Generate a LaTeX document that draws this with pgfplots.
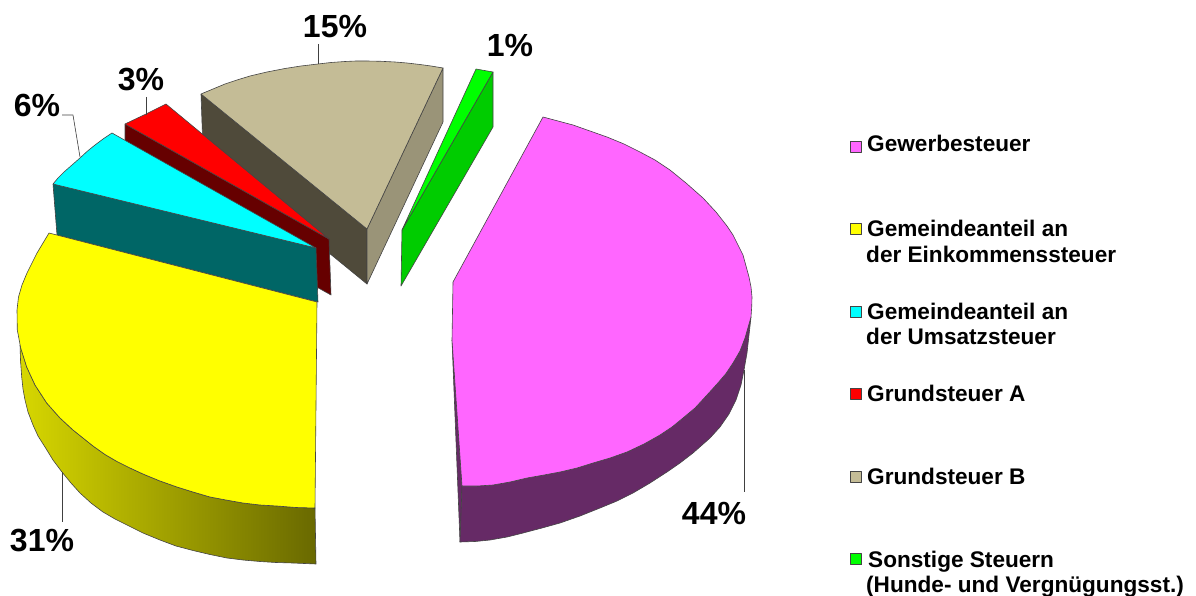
\documentclass[border=0pt]{standalone}
\usepackage{fontspec}
\setmainfont{Liberation Sans}
\usepackage{pgfplots}
\pgfplotsset{compat=1.18}
\definecolor{mag}{HTML}{FF66FF}
\definecolor{magside}{HTML}{662A66}
\definecolor{tan}{HTML}{C4BC96}
\definecolor{tanl}{HTML}{4F4A3A}
\definecolor{tanr}{HTML}{9A9478}
\definecolor{redc}{HTML}{FF0000}
\definecolor{redside}{HTML}{660000}
\definecolor{cyanc}{HTML}{00FFFF}
\definecolor{yellowc}{HTML}{FFFF00}
\definecolor{teal2}{HTML}{006666}
\definecolor{grn}{HTML}{00FF00}
\definecolor{grnside}{HTML}{00CC00}
\definecolor{edge}{HTML}{444444}
\newcommand{\lab}[1]{{\fontsize{32}{32}\selectfont\bfseries #1}}
\newcommand{\leg}[1]{{\fontsize{22.6}{23}\selectfont\bfseries #1}}
\begin{document}
\begin{tikzpicture}
\begin{axis}[scale only axis,width=1196pt,height=596pt,xmin=0,xmax=1196,ymin=0,ymax=596,y dir=reverse,hide axis,clip=false,
 every axis plot/.append style={line width=0.6pt,line join=round,draw=edge,mark=none}]
\path[use as bounding box] (axis cs:0,0) rectangle (axis cs:1196,596);
% tan
\addplot[fill=tanl] coordinates {(201,94)(367,229)(367,284)(203,150)(201,94)};
\addplot[fill=tanr] coordinates {(367,229)(443,68)(443,122)(367,284)(367,229)};
\addplot[fill=tan] coordinates {(201,94)(213,89)(225,84)(237,80)(250,76)(267,72)(285,68.5)(301,66)(318,64)(331,62.5)(345,61.5)(356,61)(367,61)(381,61.3)(395,62)(407,63)(420,64.5)(431,66)(443,68)(367,229)(201,94)};
% red
\addplot[fill=redside] coordinates {(125,124)(329,239)(331,295)(125,180)(125,124)};
\addplot[fill=redc] coordinates {(125,124)(146,114)(166,104)(329,239)(125,124)};
% green
\addplot[fill=grnside] coordinates {(493,72)(402,230)(401,286)(493,127)(493,72)};
\addplot[fill=grn] coordinates {(476,69)(493,72)(402,230)(476,69)};
% cyan
\addplot[fill=teal2] coordinates {(53,184)(316,248)(318,302)(57,235)(53,184)};
\addplot[fill=cyanc] coordinates {(53,184)(58,178)(64,172)(72,165)(80,158)(87,151.5)(95,145)(103,139)(112,133)(316,248)(53,184)};
% yellow
\addplot[left color={rgb,255:red,215;green,215;blue,0},right color={rgb,255:red,105;green,105;blue,0}] coordinates {(20,345)(26.7,367)(35,385)(46.7,403)(60,418)(73,430)(93,446)(105,454.5)(117,461.5)(130,468)(143,474)(160,481)(177,487)(193,492)(210,497)(226,500)(243,503)(260,505)(277,506)(296,507.5)(315,508)(316,564)(293,563)(276,562.5)(260,561.5)(243,560)(227,558)(210,554.5)(193,550.5)(176,546)(160,540)(143,533)(127,525)(115,519)(103,512)(91,503)(80,493)(71,483)(62,472)(53,460)(45,447)(38,436)(33,425)(28,412)(25,400)(23,389)(21.7,377)(20.5,360)(20,345)};
\addplot[fill=yellowc] coordinates {(49,233)(43,243)(37,253)(32,263)(27,273)(22,285)(18.5,297)(17,310)(17.3,330)(20.7,348)(26.7,367)(35,385)(46.7,403)(60,418)(73,430)(93,446)(105,454.5)(117,461.5)(130,468)(143,474)(160,481)(177,487)(193,492)(210,497)(226,500)(243,503)(260,505)(277,506)(296,507.5)(315,508)(317,302)(49,233)};
% magenta
\addplot[fill=magside] coordinates {(452,340)(462,486)(460,542)(452,340)};
\addplot[fill=magside] coordinates {(751,317)(745,338)(740,351)(733,363)(726,373.5)(717,384)(707,395)(695,408)(683,418)(672,427)(660,435)(644,444)(627,452)(610,458)(593,463)(577,468)(560,472)(544,475)(527,478)(510,482)(493,485)(477,486)(462,486)(460,542)(475,541.5)(490,540)(507,537)(523,533)(542,528)(560,523)(580,516)(600,508)(617,501)(633,493)(650,483)(667,472)(680,463)(693,453)(710,438)(720,427)(729,414)(736,400)(741,385)(744,370)(747,353)(751,317)};
\addplot[fill=mag] coordinates {(453,282)(543,117)(558,121)(573,125)(590,131)(607,137)(624,144)(640,152)(655,160)(670,170)(686,183)(703,198)(716,212)(727,226)(733,235)(738,245)(743,255)(746,266)(749,277)(751,287)(752,297)(751.7,307)(751,317)(745,338)(740,351)(733,363)(726,373.5)(717,384)(707,395)(695,408)(683,418)(672,427)(660,435)(644,444)(627,452)(610,458)(593,463)(577,468)(560,472)(544,475)(527,478)(510,482)(493,485)(477,486)(462,486)(452,340)(453,282)};
% leaders
\addplot[draw=black!75] coordinates {(318,44)(318,64)};
\addplot[draw=black!75] coordinates {(146,97)(146,115)};
\addplot[draw=black!75] coordinates {(62,115)(73,115)(80,157)};
\addplot[draw=black!75] coordinates {(62,472)(62,522)};
\addplot[draw=black!75] coordinates {(744,370)(744,492)};
% legend keys
\addplot[only marks,mark=square*,mark size=5.5pt,mark options={fill=mag,draw=edge,line width=0.9pt}] coordinates {(856,147)};
\addplot[only marks,mark=square*,mark size=5.5pt,mark options={fill=yellowc,draw=edge,line width=0.9pt}] coordinates {(856,229)};
\addplot[only marks,mark=square*,mark size=5.5pt,mark options={fill=cyanc,draw=edge,line width=0.9pt}] coordinates {(856,312)};
\addplot[only marks,mark=square*,mark size=5.5pt,mark options={fill=redc,draw=edge,line width=0.9pt}] coordinates {(856,394)};
\addplot[only marks,mark=square*,mark size=5.5pt,mark options={fill=tan,draw=edge,line width=0.9pt}] coordinates {(856,477)};
\addplot[only marks,mark=square*,mark size=5.5pt,mark options={fill=grn,draw=edge,line width=0.9pt}] coordinates {(856,559)};
% labels
\node[inner sep=0pt] at (axis cs:335,27) {\lab{15\%}};
\node[inner sep=0pt] at (axis cs:141,80) {\lab{3\%}};
\node[inner sep=0pt] at (axis cs:37,105) {\lab{6\%}};
\node[inner sep=0pt] at (axis cs:510,45) {\lab{1\%}};
\node[inner sep=0pt] at (axis cs:42,541) {\lab{31\%}};
\node[inner sep=0pt] at (axis cs:714,513) {\lab{44\%}};
\node[inner sep=0pt,anchor=base west] at (axis cs:867,152) {\leg{Gewerbesteuer}};
\node[inner sep=0pt,anchor=base west] at (axis cs:867,236) {\leg{Gemeindeanteil an}};
\node[inner sep=0pt,anchor=base west] at (axis cs:866,262) {\leg{der Einkommenssteuer}};
\node[inner sep=0pt,anchor=base west] at (axis cs:867,319) {\leg{Gemeindeanteil an}};
\node[inner sep=0pt,anchor=base west] at (axis cs:866,344) {\leg{der Umsatzsteuer}};
\node[inner sep=0pt,anchor=base west] at (axis cs:867,401) {\leg{Grundsteuer A}};
\node[inner sep=0pt,anchor=base west] at (axis cs:867,484) {\leg{Grundsteuer B}};
\node[inner sep=0pt,anchor=base west] at (axis cs:868,567) {\leg{Sonstige Steuern}};
\node[inner sep=0pt,anchor=base west] at (axis cs:866,592) {\leg{(Hunde- und Vergnügungsst.)}};
\end{axis}
\end{tikzpicture}
\end{document}
